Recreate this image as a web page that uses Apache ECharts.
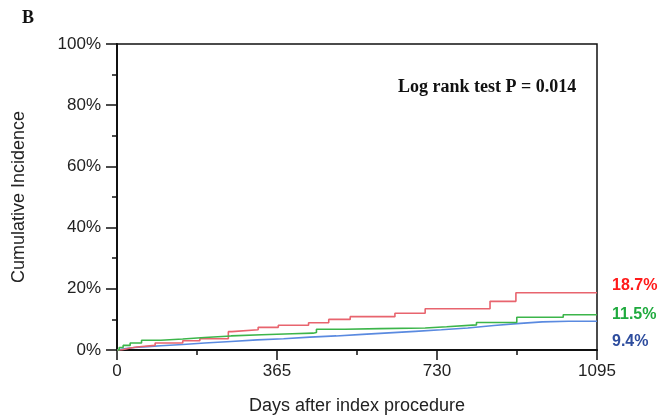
<!DOCTYPE html>
<html>
<head>
<meta charset="utf-8">
<script src="https://cdn.jsdelivr.net/npm/echarts@6/dist/echarts.min.js"></script>
<style>
  html, body { margin: 0; padding: 0; background: #fff; }
  #main { width: 670px; height: 420px; }
</style>
</head>
<body>
<div id="main"></div>
<script>
// x ticks (days) and y ticks (%)
const xTicks = [0, 365, 730, 1095]
const yTicks = [0, 20, 40, 60, 80, 100]

// Kaplan-Meier style cumulative incidence, [day, %]
const redData = [[0, 0], [10, 0.5], [25, 1.0], [45, 1.5], [87, 2.3], [150, 3.0], [189, 3.7], [254, 6.0], [262, 6.6],
  [322, 7.4], [368, 8.1], [437, 8.9], [483, 10.0], [532, 10.9], [634, 12.0], [703, 13.5], [851, 15.9], [910, 18.7], [1095, 18.7]]
const greenData = [[0, 0], [5, 0.8], [14, 1.5], [30, 2.3], [56, 3.2], [100, 3.6], [150, 4.1], [200, 4.6], [260, 5.0],
  [330, 5.3], [400, 5.5], [447, 5.7], [455, 6.8], [520, 7.0], [600, 7.2], [703, 7.6], [752, 8.2], [820, 9.0],
  [912, 10.7], [1018, 11.5], [1095, 11.5]]
const blueData = [[0, 0], [20, 0.5], [40, 0.8], [70, 1.1], [100, 1.4], [150, 1.8], [200, 2.3], [260, 2.8], [320, 3.3],
  [380, 3.7], [440, 4.2], [500, 4.6], [560, 5.1], [620, 5.6], [680, 6.1], [740, 6.6], [800, 7.2], [860, 8.0],
  [920, 8.7], [970, 9.2], [1030, 9.4], [1095, 9.4]]
const endLabels = ['18.7%', '11.5%', '9.4%']

const chart = echarts.init(document.getElementById('main'))
const axisFont = 'Liberation Sans, Arial, sans-serif'

chart.setOption({
  backgroundColor: '#fff',
  animation: false,
  grid: { left: 117, right: 73, top: 44, bottom: 64.5, show: true, borderColor: '#111', borderWidth: 1.5 },
  xAxis: {
    type: 'value', min: xTicks[0], max: xTicks[xTicks.length - 1], interval: 365,
    name: 'Days after index procedure', nameLocation: 'middle', nameGap: 47,
    nameTextStyle: { fontFamily: axisFont, fontSize: 18, color: '#222' },
    axisLine: { show: true, onZero: false, lineStyle: { color: '#111', width: 2 } },
    axisTick: { show: true, length: 10, lineStyle: { color: '#111', width: 1.5 } },
    minorTick: { show: true, splitNumber: 2, length: 5, lineStyle: { color: '#111', width: 1.5 } },
    axisLabel: { fontFamily: axisFont, fontSize: 17, color: '#222', margin: 13, formatter: v => String(v) },
    splitLine: { show: false }
  },
  yAxis: {
    type: 'value', min: yTicks[0], max: yTicks[yTicks.length - 1], interval: 20,
    name: 'Cumulative Incidence', nameLocation: 'middle', nameGap: 89,
    nameTextStyle: { fontFamily: axisFont, fontSize: 18, color: '#222' },
    axisLine: { show: true, onZero: false, lineStyle: { color: '#111', width: 2 } },
    axisTick: { show: true, length: 11, lineStyle: { color: '#111', width: 1.5 } },
    minorTick: { show: true, splitNumber: 2, length: 5, lineStyle: { color: '#111', width: 1.5 } },
    axisLabel: { fontFamily: axisFont, fontSize: 17, color: '#222', margin: 16, formatter: '{value}%' },
    splitLine: { show: false }
  },
  series: [
    { type: 'line', step: 'end', data: redData, showSymbol: false, lineStyle: { color: '#e8646e', width: 1.6 }, z: 3 },
    { type: 'line', step: 'end', data: greenData, showSymbol: false, lineStyle: { color: '#3cb54a', width: 1.6 }, z: 4 },
    { type: 'line', data: blueData, showSymbol: false, lineStyle: { color: '#5a8ae0', width: 1.6 }, z: 2 }
  ],
  graphic: [
    { type: 'text', left: 22, top: 9, style: { text: 'B', font: 'bold 18px Liberation Serif, Times New Roman, serif', fill: '#111' } },
    { type: 'text', left: 398, top: 78, style: { text: 'Log rank test P = 0.014', font: 'bold 18px Liberation Serif, Times New Roman, serif', fill: '#111' } },
    { type: 'text', left: 612, top: 278, style: { text: endLabels[0], font: 'bold 16px Liberation Sans, Arial, sans-serif', fill: '#ff1a1a' } },
    { type: 'text', left: 612, top: 307, style: { text: endLabels[1], font: 'bold 16px Liberation Sans, Arial, sans-serif', fill: '#1faa3e' } },
    { type: 'text', left: 612, top: 334, style: { text: endLabels[2], font: 'bold 16px Liberation Sans, Arial, sans-serif', fill: '#2e4d9e' } }
  ]
})
</script>
</body>
</html>
